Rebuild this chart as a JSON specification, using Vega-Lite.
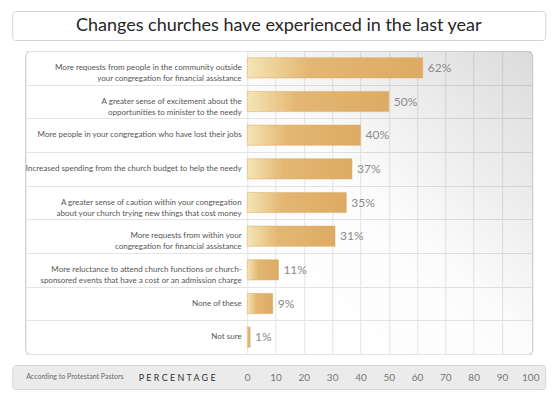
{
  "$schema": "https://vega.github.io/schema/vega-lite/v6.json",
  "padding": {"left": 11, "top": 10, "right": 11, "bottom": 11},
  "background": "white",
  "config": {"view": {"stroke": null}, "font": "Lato"},
  "center": true,
  "spacing": 9,
  "vconcat": [
    {
      "width": 533,
      "height": 29,
      "view": {"fill": "white", "stroke": "#d4d4d4", "cornerRadius": 3},
      "data": {"values": [{"t": "Changes churches have experienced in the last year"}]},
      "mark": {"type": "text", "font": "Lato", "fontSize": 18, "color": "#262626", "baseline": "middle", "align": "center"},
      "encoding": {"text": {"field": "t"}}
    },
    {
      "width": 507,
      "height": 303,
      "view": {"fill": "white", "stroke": "#c4c4c4", "cornerRadius": 5},
      "data": {"values": [
        {"category": "More requests from people in the community outside\nyour congregation for financial assistance", "value": 62, "pct": "62%"},
        {"category": "A greater sense of excitement about the\nopportunities to minister to the needy", "value": 50, "pct": "50%"},
        {"category": "More people in your congregation who have lost their jobs", "value": 40, "pct": "40%"},
        {"category": "Increased spending from the church budget to help the needy", "value": 37, "pct": "37%"},
        {"category": "A greater sense of caution within your congregation\nabout your church trying new things that cost money", "value": 35, "pct": "35%"},
        {"category": "More requests from within your\ncongregation for financial assistance", "value": 31, "pct": "31%"},
        {"category": "More reluctance to attend church functions or church-\nsponsored events that have a cost or an admission charge", "value": 11, "pct": "11%"},
        {"category": "None of these", "value": 9, "pct": "9%"},
        {"category": "Not sure", "value": 1, "pct": "1%"}
      ]},
      "encoding": {
        "y": {"field": "category", "type": "nominal", "sort": null,
          "scale": {"paddingInner": 0, "paddingOuter": 0},
          "axis": {"labels": false, "ticks": false, "domain": false, "grid": true, "tickBand": "extent", "gridColor": "#e4e4e4", "title": null}}
      },
      "layer": [
        {
          "data": {"values": [{}]},
          "mark": {"type": "rect", "cornerRadiusTopRight": 5, "cornerRadiusBottomRight": 5,
            "fill": {"gradient": "linear", "x1": 0.1, "y1": 1, "x2": 1, "y2": 0,
              "stops": [{"offset": 0, "color": "rgba(0,0,0,0)"}, {"offset": 0.45, "color": "rgba(0,0,0,0.01)"}, {"offset": 1, "color": "rgba(0,0,0,0.14)"}]}},
          "encoding": {
            "y": null,
            "x": {"datum": 0, "type": "quantitative"},
            "x2": {"datum": 100.7}
          }
        },
        {
          "mark": {"type": "bar", "height": {"band": 0.6},
            "fill": {"gradient": "linear", "x1": 0, "y1": 0, "x2": 1, "y2": 0,
              "stops": [{"offset": 0, "color": "#f5e5b5"}, {"offset": 0.35, "color": "#e3b773"}, {"offset": 1, "color": "#ddab63"}]},
            "stroke": "#d8a862", "strokeWidth": 0.5},
          "encoding": {
            "x": {"field": "value", "type": "quantitative",
              "scale": {"domain": [-78.45, 100.7], "nice": false, "zero": false},
              "axis": {"values": [0, 10, 20, 30, 40, 50, 60, 70, 80, 90], "grid": true, "gridColor": "#e4e4e4", "labels": false, "ticks": false, "domain": false, "title": null}}
          }
        },
        {
          "mark": {"type": "text", "align": "left", "baseline": "middle", "dx": 5, "font": "Lato", "fontSize": 12, "color": "#8a8a8a"},
          "encoding": {
            "x": {"field": "value", "type": "quantitative"},
            "text": {"field": "pct"}
          }
        },
        {
          "mark": {"type": "text", "align": "right", "baseline": "middle", "font": "Lato", "fontSize": 8, "color": "#555555", "lineBreak": "\n", "lineHeight": 11},
          "encoding": {
            "x": {"datum": -2, "type": "quantitative"},
            "text": {"field": "category"}
          }
        }
      ]
    },
    {
      "width": 533,
      "height": 24,
      "view": {"fill": "#ebebeb", "stroke": "#d6d6d6", "cornerRadius": 3},
      "data": {"values": [{"note": "According to Protestant Pastors"}]},
      "mark": {"type": "text", "align": "left", "baseline": "middle", "font": "Lato", "fontSize": 7, "color": "#6a6a6a"},
      "encoding": {
        "x": {"datum": -78.1, "type": "quantitative",
          "scale": {"domain": [-83.04, 105.3], "nice": false, "zero": false},
          "axis": {"orient": "bottom", "offset": -12, "values": [0, 10, 20, 30, 40, 50, 60, 70, 80, 90, 100],
            "ticks": false, "domain": false, "grid": false, "labelPadding": 0, "labelBaseline": "middle",
            "labelFont": "Lato", "labelFontSize": 10, "labelColor": "#777777",
            "title": "P E R C E N T A G E", "titleX": 164.5, "titleY": 0, "titleBaseline": "middle", "titleAlign": "center",
            "titleFont": "Lato", "titleFontSize": 9, "titleFontWeight": "normal", "titleColor": "#333333"}},
        "text": {"field": "note"}
      }
    }
  ]
}
